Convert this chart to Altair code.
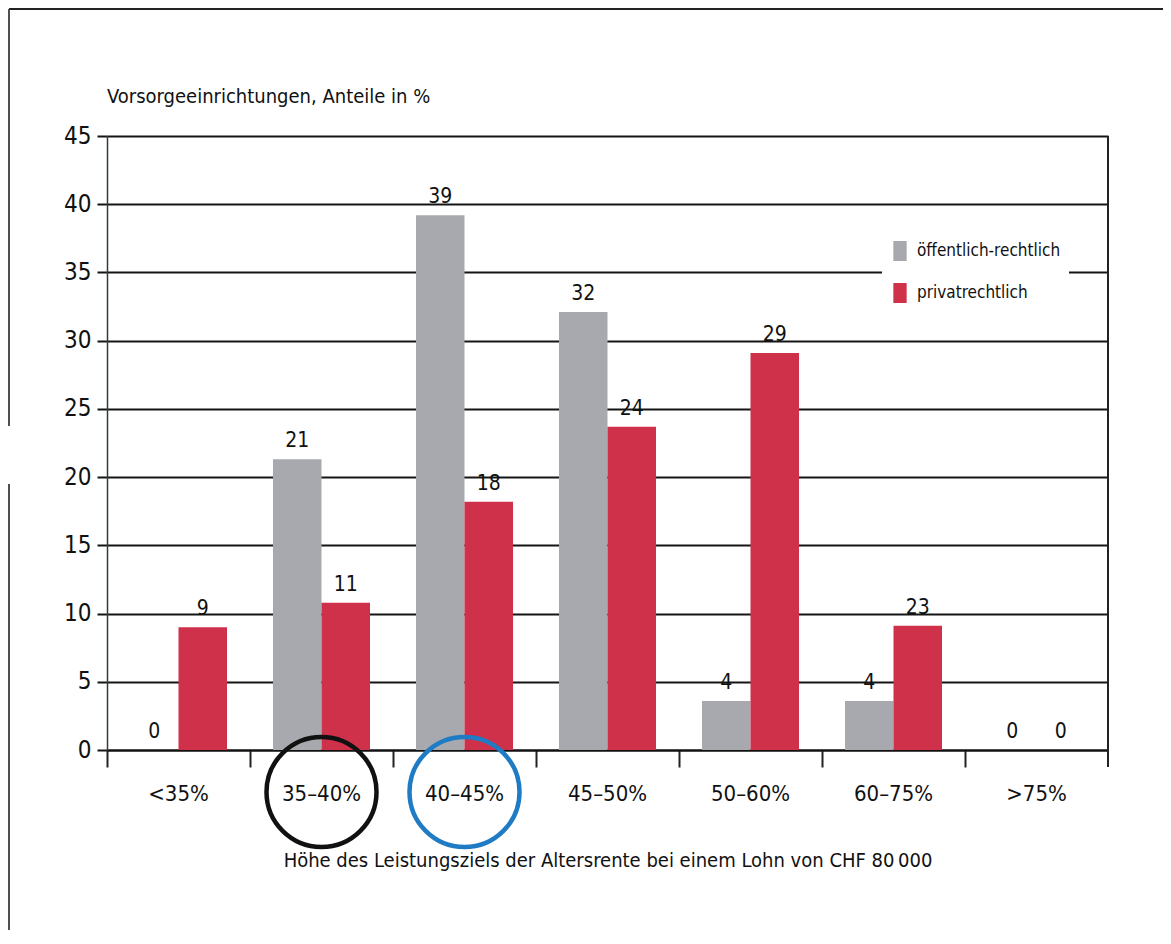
import altair as alt
import pandas as pd

FONT = "DejaVu Sans Condensed"

title_text = "Vorsorgeeinrichtungen, Anteile in %"
x_title = "Höhe des Leistungsziels der Altersrente bei einem Lohn von CHF 80\u202f000"

categories = ["<35%", "35–40%", "40–45%", "45–50%", "50–60%", "60–75%", ">75%"]
series = ["öffentlich-rechtlich", "privatrechtlich"]
oeff_values = [0, 21.3, 39.2, 32.1, 3.6, 3.6, 0]
priv_values = [9.0, 10.8, 18.2, 23.7, 29.1, 9.1, 0]
oeff_labels = ["0", "21", "39", "32", "4", "4", "0"]
priv_labels = ["9", "11", "18", "24", "29", "23", "0"]
series_colors = ["#a7a9af", "#cf314b"]

highlight_categories = ["35–40%", "40–45%"]
highlight_colors = ["#111111", "#1f7bc4"]

y_ticks = [0, 5, 10, 15, 20, 25, 30, 35, 40, 45]

rows = []
for c, v, l in zip(categories, oeff_values, oeff_labels):
    rows.append({"category": c, "series": series[0], "value": v, "label": l})
for c, v, l in zip(categories, priv_values, priv_labels):
    rows.append({"category": c, "series": series[1], "value": v, "label": l})
df = pd.DataFrame(rows)

hl = pd.DataFrame({"category": highlight_categories, "col": highlight_colors})
title_df = pd.DataFrame({"t": [title_text]})

x_enc = alt.X(
    "category:N",
    sort=categories,
    scale=alt.Scale(paddingInner=0, paddingOuter=0),
    axis=alt.Axis(
        title=x_title,
        labelAngle=0,
        bandPosition=0,
        tickSize=17,
        tickWidth=2,
        tickColor="#222222",
        domainColor="#111111",
        domainWidth=2,
        labelFontSize=22,
        labelPadding=16,
        labelColor="#111111",
        labelFont=FONT,
        titleFont=FONT,
        titleFontSize=20,
        titleFontWeight="normal",
        titleColor="#111111",
        titlePadding=46,
    ),
)
xo_enc = alt.XOffset(
    "series:N", sort=series, scale=alt.Scale(paddingInner=0, paddingOuter=0.474)
)
y_enc = alt.Y(
    "value:Q",
    scale=alt.Scale(domain=[0, 45], nice=False),
    axis=alt.Axis(
        title=None,
        values=y_ticks,
        grid=True,
        gridColor="#151515",
        gridWidth=2,
        tickSize=10,
        tickWidth=2,
        tickColor="#151515",
        domainColor="#2e3c40",
        domainWidth=1.5,
        labelFontSize=24,
        labelPadding=6,
        labelColor="#111111",
        labelFont=FONT,
    ),
)

base = alt.Chart(df).encode(x=x_enc, xOffset=xo_enc)

bars = base.mark_bar().encode(
    y=y_enc,
    color=alt.Color(
        "series:N",
        sort=series,
        scale=alt.Scale(domain=series, range=series_colors),
        legend=alt.Legend(
            title=None,
            orient="none",
            legendX=775,
            legendY=97,
            fillColor="white",
            padding=8,
            symbolType="M-0.667,-1H0.667V1H-0.667Z",
            symbolSize=400,
            symbolStrokeWidth=0,
            labelFontSize=17,
            labelFont=FONT,
            labelColor="#111111",
            labelOffset=7,
            labelLimit=400,
            rowPadding=22,
        ),
    ),
)

texts = base.mark_text(
    baseline="alphabetic", dy=-12, fontSize=21, font=FONT, color="#111111"
).encode(y="value:Q", text="label:N")

circles = alt.Chart(hl).mark_point(
    shape="circle", size=12100, filled=False, strokeWidth=4.5, opacity=1
).encode(
    x=alt.X("category:N", sort=categories),
    y=alt.value(656),
    stroke=alt.Color("col:N", scale=None),
)

title_mark = alt.Chart(title_df).mark_text(
    align="left", baseline="alphabetic", fontSize=20, font=FONT, color="#111111"
).encode(text="t:N", x=alt.value(0), y=alt.value(-33))

right_border = alt.Chart(hl).mark_rule(color="#222222", strokeWidth=2).encode(
    x=alt.value(1001), y=alt.value(0), y2=alt.value(631)
)
frame_top = alt.Chart(hl).mark_rule(color="#222222", strokeWidth=2).encode(
    x=alt.value(-98), x2=alt.value(1064), y=alt.value(-127)
)
frame_left1 = alt.Chart(hl).mark_rule(color="#444444", strokeWidth=1.5).encode(
    x=alt.value(-98), y=alt.value(-127), y2=alt.value(290)
)
frame_left2 = alt.Chart(hl).mark_rule(color="#444444", strokeWidth=1.5).encode(
    x=alt.value(-98), y=alt.value(348), y2=alt.value(800)
)

chart = (
    alt.layer(
        bars, texts, circles, title_mark,
        right_border, frame_top, frame_left1, frame_left2,
    )
    .resolve_scale(stroke="independent")
    .properties(
        width=1001,
        height=614,
        autosize=alt.AutoSizeParams(type="none"),
        padding={"left": 99, "top": 128, "right": 55, "bottom": 180},
    )
    .configure_view(stroke=None)
    .configure(background="white")
)

chart.save("out.html", embed_options={"renderer": "svg", "actions": False})
